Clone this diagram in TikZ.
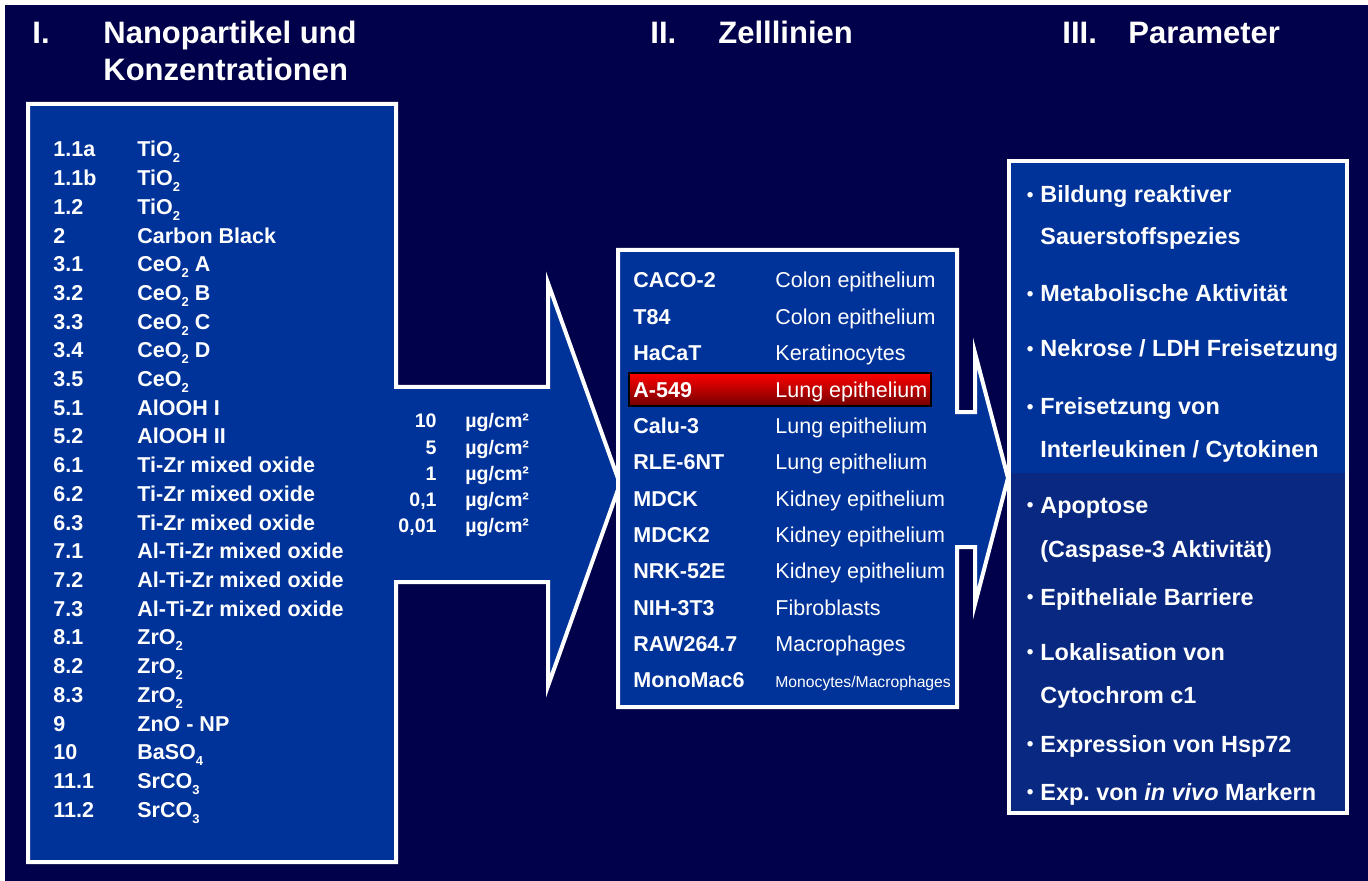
\documentclass[tikz,border=0pt]{standalone}
\usepackage{fontspec}
\setmainfont{Liberation Sans}
\definecolor{nuit}{RGB}{0,0,75}
\definecolor{bleu}{RGB}{0,51,153}
\definecolor{bleufonce}{RGB}{8,40,130}
\definecolor{rougehaut}{RGB}{255,0,0}
\definecolor{rougebas}{RGB}{115,0,0}
\newcommand{\puce}{\llap{\raisebox{0.8pt}{\fontsize{9.5}{10}\selectfont\textbullet}\hspace{3.5pt}}}
\newcommand{\ind}[1]{\raisebox{-3pt}{\fontsize{6.5}{7}\selectfont #1}}

\begin{document}
\begin{tikzpicture}[x=0.5pt, y=-0.5pt,
    titre/.style={white, anchor=base west, inner sep=0pt, font=\fontsize{15.5}{18}\selectfont\bfseries},
    np/.style={white, anchor=base west, inner sep=0pt, font=\fontsize{10.75}{12}\selectfont\bfseries},
    dose/.style={white, anchor=base east, inner sep=0pt, font=\fontsize{9.8}{12}\selectfont\bfseries},
    unite/.style={white, anchor=base west, inner sep=0pt, font=\fontsize{9.8}{12}\selectfont\bfseries},
    lignee/.style={white, anchor=base west, inner sep=0pt, font=\fontsize{10.75}{12}\selectfont\bfseries},
    tissu/.style={white, anchor=base west, inner sep=0pt, font=\fontsize{10.75}{12}\selectfont},
    param/.style={white, anchor=base west, inner sep=0pt, font=\fontsize{11.7}{14}\selectfont\bfseries},
    cadre/.style={draw=white, line width=2pt, line join=miter}]

    % Fond
    \useasboundingbox (0,0) rectangle (1368,881);
    \fill[white] (0,0) rectangle (1368,881);
    \fill[nuit] (5,5) rectangle (1368,881);

    % Titres
    \node[titre] (t1) at (32,44) {I.};
    \node[titre] (t1a) at (103,44) {Nanopartikel und};
    \node[titre] (t1b) at (103,81) {Konzentrationen};
    \node[titre] (t2) at (650,44) {II.};
    \node[titre] (t2a) at (718,44) {Zelllinien};
    \node[titre] (t3) at (1062,44) {III.};
    \node[titre] (t3a) at (1128,44) {Parameter};

    % Bloc I : cadre + flèche
    \filldraw[cadre, fill=bleu] (28,104) -- (396,104) -- (396,387) -- (548,387) -- (548,283)
        -- (620,484) -- (548,686) -- (548,582) -- (396,582) -- (396,862) -- (28,862) -- cycle;

    % Bloc II : cadre + flèche
    \filldraw[cadre, fill=bleu] (618,250) -- (957,250) -- (957,412) -- (975,412) -- (975,353)
        -- (1008,478) -- (975,604) -- (975,547) -- (957,547) -- (957,707) -- (618,707) -- cycle;

    % Bloc III : deux zones
    \fill[bleu] (1009,161) rectangle (1347,473);
    \fill[bleufonce] (1009,473) rectangle (1347,813);
    \draw[cadre] (1009,161) rectangle (1347,813);

    % Nanopartikel
    \foreach \num/\nom [count=\i from 0] in {1.1a/TiO\ind{2}, 1.1b/TiO\ind{2},
        1.2/TiO\ind{2}, 2/Carbon Black, 3.1/CeO\ind{2} A, 3.2/CeO\ind{2} B,
        3.3/CeO\ind{2} C, 3.4/CeO\ind{2} D, 3.5/CeO\ind{2}, 5.1/AlOOH I,
        5.2/AlOOH II, 6.1/Ti-Zr mixed oxide, 6.2/Ti-Zr mixed oxide, 6.3/Ti-Zr mixed oxide,
        7.1/Al-Ti-Zr mixed oxide, 7.2/Al-Ti-Zr mixed oxide, 7.3/Al-Ti-Zr mixed oxide,
        8.1/ZrO\ind{2}, 8.2/ZrO\ind{2}, 8.3/ZrO\ind{2}, 9/ZnO - NP,
        10/BaSO\ind{4}, 11.1/SrCO\ind{3}, 11.2/SrCO\ind{3}}
        \node[np] (np\i) at (53,157+28.7*\i) {\makebox[42pt][l]{\num}\nom};

    % Konzentrationen
    \foreach \v [count=\i from 0] in {10, 5, 1, {0,1}, {0,01}} {
        \node[dose] (c\i) at (437,428+26.2*\i) {\v};
        \node[unite] (u\i) at (465,428+26.2*\i) {µg/cm²};
    }

    % Zelllinien
    \draw[black, line width=0.8pt, top color=rougehaut, bottom color=rougebas] (629,373) rectangle (931,406);
    \foreach \nom/\type [count=\i from 0] in {CACO-2/Colon epithelium, T84/Colon epithelium,
        HaCaT/Keratinocytes, A-549/Lung epithelium, Calu-3/Lung epithelium, RLE-6NT/Lung epithelium,
        MDCK/Kidney epithelium, MDCK2/Kidney epithelium, NRK-52E/Kidney epithelium,
        NIH-3T3/Fibroblasts, RAW264.7/Macrophages,
        MonoMac6/{\fontsize{7.85}{9}\selectfont Monocytes/Macrophages}} {
        \node[lignee] (z\i) at (633,288+36.36*\i) {\nom};
        \node[tissu] (g\i) at (775,288+36.36*\i) {\type};
    }

    % Parameter
    \node[param] (p1) at (1040,203) {\puce Bildung reaktiver};
    \node[param] (p1b) at (1040,245) {Sauerstoffspezies};
    \node[param] (p2) at (1040,302) {\puce Metabolische Aktivität};
    \node[param] (p3) at (1040,357) {\puce Nekrose / LDH Freisetzung};
    \node[param] (p4) at (1040,415) {\puce Freisetzung von};
    \node[param] (p4b) at (1040,457) {Interleukinen / Cytokinen};
    \node[param] (p5) at (1040,513) {\puce Apoptose};
    \node[param] (p5b) at (1040,557) {(Caspase-3 Aktivität)};
    \node[param] (p6) at (1040,605) {\puce Epitheliale Barriere};
    \node[param] (p7) at (1040,660) {\puce Lokalisation von};
    \node[param] (p7b) at (1040,703) {Cytochrom c1};
    \node[param] (p8) at (1040,752) {\puce Expression von Hsp72};
    \node[param] (p9) at (1040,800) {\puce Exp.\ von \textit{in vivo} Markern};
\end{tikzpicture}
\end{document}
